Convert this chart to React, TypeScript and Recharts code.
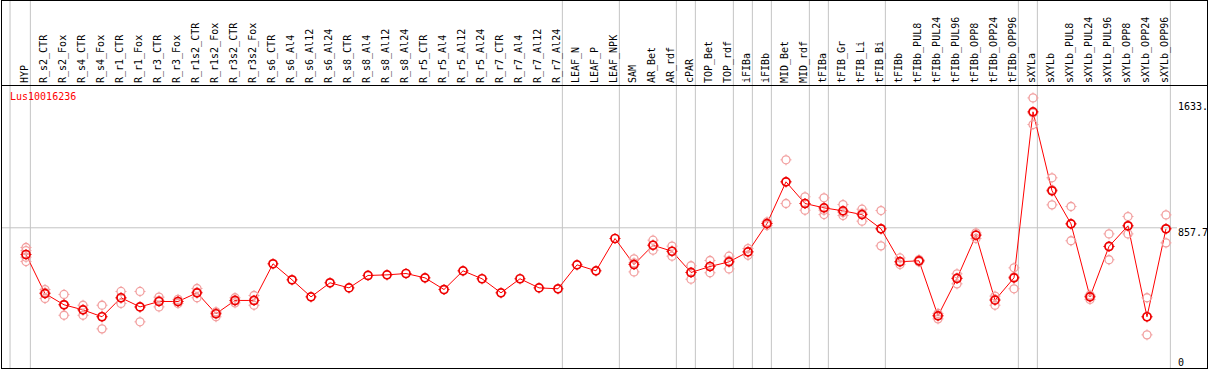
import React from 'react';
import { ComposedChart, Line, Scatter, XAxis, YAxis, ReferenceLine } from 'recharts';

const geneId = 'Lus10016236';

const categories = [
  'HYP', 'R_s2_CTR', 'R_s2_Fox', 'R_s4_CTR', 'R_s4_Fox', 'R_r1_CTR', 'R_r1_Fox', 'R_r3_CTR', 'R_r3_Fox',
  'R_r1s2_CTR', 'R_r1s2_Fox', 'R_r3s2_CTR', 'R_r3s2_Fox', 'R_s6_CTR', 'R_s6_Al4', 'R_s6_Al12', 'R_s6_Al24',
  'R_s8_CTR', 'R_s8_Al4', 'R_s8_Al12', 'R_s8_Al24', 'R_r5_CTR', 'R_r5_Al4', 'R_r5_Al12', 'R_r5_Al24',
  'R_r7_CTR', 'R_r7_Al4', 'R_r7_Al12', 'R_r7_Al24', 'LEAF_N', 'LEAF_P', 'LEAF_NPK', 'SAM', 'AR_Bet', 'AR_rdf',
  'cPAR', 'TOP_Bet', 'TOP_rdf', 'iFIBa', 'iFIBb', 'MID_Bet', 'MID_rdf', 'tFIBa', 'tFIB_Gr', 'tFIB_Li', 'tFIB_Bi',
  'tFIBb', 'tFIBb_PUL8', 'tFIBb_PUL24', 'tFIBb_PUL96', 'tFIBb_OPP8', 'tFIBb_OPP24', 'tFIBb_OPP96',
  'sXYLa', 'sXYLb', 'sXYLb_PUL8', 'sXYLb_PUL24', 'sXYLb_PUL96', 'sXYLb_OPP8', 'sXYLb_OPP24', 'sXYLb_OPP96',
];

const means = [
  679, 418, 343, 309, 263, 390, 329, 365, 365, 423, 283, 372, 372, 617, 510, 396, 490,
  456, 539, 543, 552, 523, 445, 570, 517, 423, 517, 456, 450, 610, 570, 786, 612, 741, 701,
  559, 599, 630, 697, 886, 1165, 1020, 991, 971, 946, 851,
  631, 637, 269, 519, 808, 374, 523,
  1633, 1105, 884, 396, 733, 871, 263, 851,
];

const replicates: number[][] = [
  [726, 705, 661, 632], [445, 425, 385], [412, 345, 273], [340, 312, 273], [340, 265, 182],
  [432, 388, 352], [432, 327, 229], [394, 372, 329], [379, 365, 352], [452, 427, 390],
  [296, 290, 263], [390, 370, 356], [405, 372, 340],
  [], [], [], [], [], [], [], [], [], [], [], [], [], [], [], [], [], [], [],
  [650, 623, 563], [775, 741, 708], [735, 700, 668],
  [604, 559, 514], [639, 600, 557], [668, 638, 583], [719, 697, 674], [897, 886, 873],
  [1312, 1165, 1020], [1065, 1020, 975], [1058, 975, 946], [1013, 960, 940], [982, 955, 902], [973, 851, 737],
  [656, 630, 612], [645, 637, 630], [285, 272, 249], [550, 522, 483], [824, 812, 786], [401, 380, 340], [590, 530, 450],
  [1726, 1625, 1548], [1192, 1112, 1011], [1000, 884, 771], [408, 400, 379], [817, 733, 644],
  [933, 871, 817], [390, 263, 142], [944, 851, 757],
];

const groupEnds = [
  'HYP', 'R_r7_Al24', 'LEAF_NPK', 'AR_rdf', 'cPAR', 'TOP_rdf', 'iFIBa', 'iFIBb',
  'MID_rdf', 'tFIBa', 'tFIB_Bi', 'tFIBb_OPP96', 'sXYLa', 'sXYLb_OPP96',
];

const yTicks = [0, 857.7, 1633];
const yTickLabels = ['0', '857.7', '1633.'];

const FONT = '"DejaVu Sans Mono", monospace';
const GRID = '#c4c4c4';

const meanRows = categories.map((name, i) => ({ i, name, v: means[i] }));
const repRows = replicates.flatMap((vals, i) => vals.map((v) => ({ i, v })));

const maxV = Math.max(...replicates.flat(), ...means);
const yDomain = [-0.05 * maxV, 1.05 * maxV];
// value reached at the very top of the label band (85px band over a 284px plot)
const yBandTop = yDomain[1] + ((yDomain[1] - yDomain[0]) * 85) / 284;
const xDomain = [-1.316, 60.579];
const separators = [-0.84, ...groupEnds.map((n) => categories.indexOf(n) + 0.23)];

function Marker({ cx, cy, color, width }: any) {
  if (cx == null || cy == null) return null;
  const r = 4;
  return (
    <g>
      <circle cx={cx} cy={cy} r={r} fill="none" stroke={color} strokeWidth={width} />
      <line x1={cx} y1={cy - r - 1.5} x2={cx} y2={cy - r} stroke={color} strokeWidth={1} />
      <line x1={cx} y1={cy + r} x2={cx} y2={cy + r + 1.5} stroke={color} strokeWidth={1} />
      <line x1={cx - r - 1.5} y1={cy} x2={cx - r} y2={cy} stroke={color} strokeWidth={1} />
      <line x1={cx + r} y1={cy} x2={cx + r + 1.5} y2={cy} stroke={color} strokeWidth={1} />
    </g>
  );
}

const CatTick = (p: any) => (
  <text
    transform={`translate(${p.x + 2},${p.y}) rotate(-90)`}
    textAnchor="start"
    fontFamily={FONT}
    fontSize={10}
    fill="#000"
  >
    {categories[Math.round(p.payload.value)]}
  </text>
);

const labelDy = [10, 8, -1.5];
const ValueTick = (p: any) => {
  const k = yTicks.findIndex((t) => Math.abs(t - p.payload.value) < 0.01);
  return (
    <text x={p.x} y={p.y + (labelDy[k] ?? 0)} textAnchor="start" fontFamily={FONT} fontSize={10} fill="#000">
      {yTickLabels[k]}
    </text>
  );
};

export default function App() {
  return (
    <div style={{ position: 'relative', width: 1209, height: 370, background: '#fff' }}>
      <style>{'body{margin:0}'}</style>
      <ComposedChart width={1209} height={370} data={meanRows} margin={{ top: 0, right: 2, bottom: 1, left: 1 }}>
        <XAxis
          xAxisId="x"
          dataKey="i"
          orientation="top"
          type="number"
          domain={xDomain}
          allowDataOverflow
          ticks={categories.map((_, i) => i)}
          interval={0}
          height={85}
          tickSize={0}
          tickMargin={2}
          tickLine={false}
          axisLine={false}
          tick={CatTick}
        />
        <YAxis
          yAxisId="v"
          dataKey="v"
          orientation="right"
          width={30}
          type="number"
          domain={yDomain}
          allowDataOverflow
          ticks={yTicks}
          interval={0}
          tickSize={0}
          tickMargin={1}
          tickLine={false}
          axisLine={false}
          tick={ValueTick}
        />
        <ReferenceLine xAxisId="x" yAxisId="v" y={yTicks[1]} stroke={GRID} />
        {separators.map((s) => (
          <ReferenceLine
            key={s}
            xAxisId="x"
            yAxisId="v"
            ifOverflow="visible"
            segment={[{ x: s, y: yDomain[0] }, { x: s, y: yBandTop }]}
            stroke={GRID}
          />
        ))}
        <Scatter
          xAxisId="x"
          yAxisId="v"
          data={repRows}
          dataKey="v"
          isAnimationActive={false}
          shape={(p: any) => <Marker cx={p.cx} cy={p.cy} color="#f2a0a0" width={1.3} />}
        />
        <Line
          xAxisId="x"
          yAxisId="v"
          dataKey="v"
          stroke="#ff0000"
          strokeWidth={1}
          isAnimationActive={false}
          dot={(p: any) => <Marker key={p.index} cx={p.cx} cy={p.cy} color="#ee0000" width={1.7} />}
          activeDot={false}
        />
      </ComposedChart>
      <div
        style={{
          position: 'absolute', left: 1, top: 0, width: 1207, height: 369, boxSizing: 'border-box',
          border: '1px solid #000', pointerEvents: 'none',
        }}
      />
      <div style={{ position: 'absolute', left: 1, top: 85, width: 1207, height: 1, background: '#000' }} />
      <div
        style={{
          position: 'absolute', left: 10, top: 91, fontFamily: FONT, fontSize: 10, color: '#ff0000',
          lineHeight: '12px',
        }}
      >
        {geneId}
      </div>
    </div>
  );
}
